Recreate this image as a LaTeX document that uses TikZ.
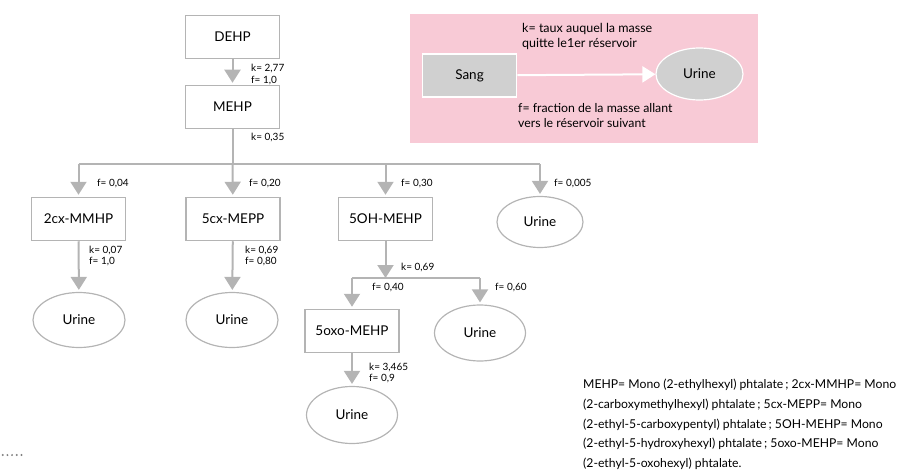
\documentclass[tikz,border=0pt]{standalone}
\usepackage{fontspec}
\setmainfont{Lato}
\usetikzlibrary{arrows.meta,shapes.geometric,positioning}
\definecolor{lgray}{RGB}{180,180,180}
\definecolor{pinkbg}{RGB}{248,202,214}
\definecolor{sanggray}{RGB}{208,208,208}

\begin{document}
\begin{tikzpicture}[x=1pt,y=-1pt,
	box/.style={draw=lgray,line width=1.5pt,minimum width=94pt,minimum height=43pt,
		inner sep=0pt,font=\fontsize{13.5}{15}\selectfont},
	urine/.style={draw=lgray,line width=1.2pt,ellipse,minimum width=90pt,minimum height=54pt,
		inner sep=0pt,font=\fontsize{13.5}{15}\selectfont},
	lab/.style={anchor=west,align=left,inner sep=0pt,font=\fontsize{10}{11.8}\selectfont},
	fl/.style={draw=lgray,line width=2pt,shorten >=2pt,-{Triangle[width=16pt,length=13pt]}},
	ln/.style={draw=lgray,line width=2pt}]
\useasboundingbox (0,0) rectangle (902,476);
% legende
\fill[pinkbg] (410,14) rectangle (758,143);
\node [box,draw=white,fill=sanggray] (sang) at (469.5,75.5) {Sang};
\node [urine,draw=white,fill=sanggray,minimum width=87pt,minimum height=52pt] (ul) at (699.5,74) {Urine};
\draw [line width=2pt,white,-{Triangle[width=16pt,length=13pt]}] (sang) -- (ul);
\node [lab,font=\fontsize{12.5}{15}\selectfont] (kl) at (522,36) {k= taux auquel la masse\\quitte le1er réservoir};
\node [lab,font=\fontsize{12.3}{15}\selectfont] (fl) at (518,116) {f= fraction de la masse allant\\vers le réservoir suivant};
% arbre
\node [box] (dehp) at (232.5,37) {DEHP};
\node [box] (mehp) at (232.5,107) {MEHP};
\node [box] (cxm) at (78.5,219) {2cx-MMHP};
\node [box] (cxp) at (233,219) {5cx-MEPP};
\node [box] (oh) at (385.5,219) {5OH-MEHP};
\node [urine,minimum width=86pt,minimum height=51pt] (u4) at (540,222) {Urine};
\node [urine,minimum width=92pt,minimum height=55pt] (u1) at (79,320) {Urine};
\node [urine,minimum width=92pt,minimum height=55pt] (u2) at (232,320) {Urine};
\node [box] (oxo) at (352,331) {5oxo-MEHP};
\node [urine,minimum width=91pt,minimum height=56pt] (u5) at (480,333) {Urine};
\node [urine,minimum width=91pt,minimum height=57pt] (u6) at (352,415) {Urine};
\coordinate (j1) at (78.5,164);
\coordinate (j2) at (540,164);
\coordinate (j3) at (352,278);
\coordinate (j4) at (480,278);
\draw [fl] (dehp) -- (mehp);
\draw [ln] (mehp) -- (mehp |- j1);
\draw [ln] (j1) -- (j2);
\draw [fl] (j1) -- (cxm);
\draw [fl] (mehp |- j1) -- (cxp);
\draw [fl] (oh |- j1) -- (oh);
\draw [fl] (j2) -- (u4);
\draw [fl] (cxm) -- (u1);
\draw [fl] (cxp) -- (u2);
\draw [fl,shorten >=0pt] (oh) -- (oh |- j3);
\draw [ln] (j3) -- (j4);
\draw [fl] (j3) -- (oxo);
\draw [fl] (j4) -- (u5);
\draw [fl] (oxo) -- (u6);
% valeurs
\node [lab] (k0) at (251,74.5) {k= 2,77\\f= 1,0};
\node [lab] (k1) at (251,137) {k= 0,35};
\node [lab] (f1) at (97,184) {f= 0,04};
\node [lab] (f2) at (249,184) {f= 0,20};
\node [lab] (f3) at (401,184) {f= 0,30};
\node [lab] (f4) at (554,184) {f= 0,005};
\node [lab] (k2) at (89,256) {k= 0,07\\f= 1,0};
\node [lab] (k3) at (245,256) {k= 0,69\\f= 0,80};
\node [lab] (k4) at (401,267) {k= 0,69};
\node [lab] (f5) at (372,288) {f= 0,40};
\node [lab] (f6) at (495,288) {f= 0,60};
\node [lab] (k5) at (369,373) {k= 3,465\\f= 0,9};
% definitions
\node [lab,anchor=north west,font=\fontsize{12.2}{19.7}\selectfont] (def) at (583,379)
	{MEHP= Mono (2-ethylhexyl) phtalate\,; 2cx-MMHP= Mono\\
	(2-carboxymethylhexyl) phtalate\,; 5cx-MEPP= Mono\\
	(2-ethyl-5-carboxypentyl) phtalate\,; 5OH-MEHP= Mono\\
	(2-ethyl-5-hydroxyhexyl) phtalate\,; 5oxo-MEHP= Mono\\
	(2-ethyl-5-oxohexyl) phtalate.};
\foreach \i in {1,...,5} \fill[gray] (\i*4.7-2,455) circle (1.1pt);
\end{tikzpicture}
\end{document}
